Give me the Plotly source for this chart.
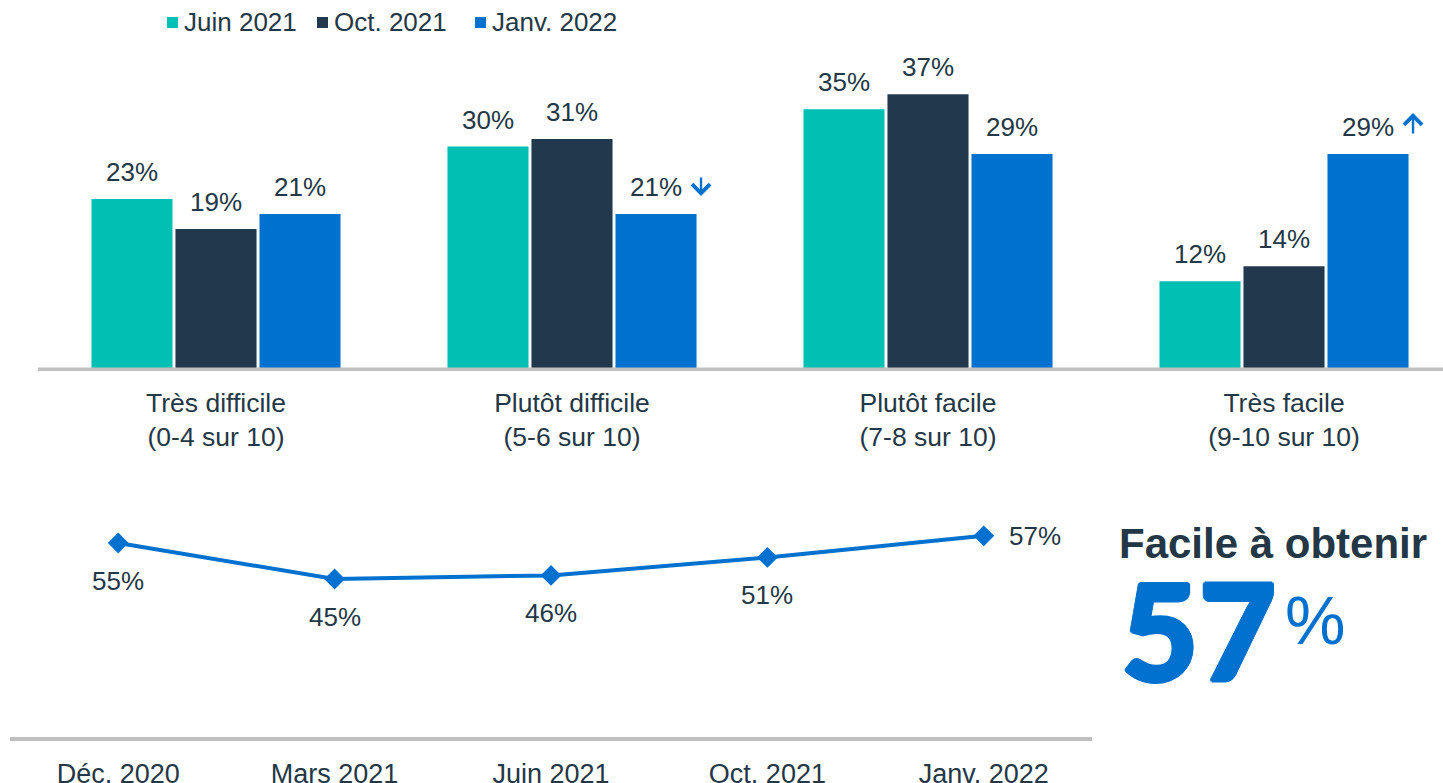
import plotly.graph_objects as go

# --- data -------------------------------------------------------------
categories = ["Très difficile<br>(0-4 sur 10)", "Plutôt difficile<br>(5-6 sur 10)",
              "Plutôt facile<br>(7-8 sur 10)", "Très facile<br>(9-10 sur 10)"]
series_names = ["Juin 2021", "Oct. 2021", "Janv. 2022"]
juin_2021 = [23, 30, 35, 12]
oct_2021 = [19, 31, 37, 14]
janv_2022 = [21, 21, 29, 29]
janv_trend = ["", "down", "", "up"]

trend_periods = ["Déc. 2020", "Mars 2021", "Juin 2021", "Oct. 2021", "Janv. 2022"]
facile_share = [55, 45, 46, 51, 57]
headline_title = "Facile à obtenir"

# --- style ------------------------------------------------------------
W, H = 1443, 783
TEAL = "#00BFB3"
NAVY = "#22384C"
BLUE = "#0071CE"
TEXT = "#243746"
GRAY = "#BFBFBF"
FONT = "Liberation Sans, Arial, sans-serif"
NARROW = "Liberation Sans Narrow, Arial Narrow, Liberation Sans, Arial, sans-serif"
colors = [TEAL, NAVY, BLUE]
bar_series = [juin_2021, oct_2021, janv_2022]

BARGAP = 0.292
GROUPGAP = 0.035
slot = (1 - BARGAP) / len(bar_series)


def px_x(x):
    return x / W


def px_y(y):
    return 1 - y / H


fig = go.Figure()

# grouped bars
for name, vals, col in zip(series_names, bar_series, colors):
    fig.add_trace(go.Bar(
        x=list(range(len(categories))), y=vals, name=name,
        marker=dict(color=col, line=dict(width=0)),
        showlegend=False, xaxis="x", yaxis="y",
    ))

annotations = []
# value labels above bars
for k, vals in enumerate(bar_series):
    off = (k - (len(bar_series) - 1) / 2) * slot
    for i, v in enumerate(vals):
        annotations.append(dict(
            x=i + off, y=v, xref="x", yref="y", text=f"{v}%", showarrow=False,
            xanchor="center", yanchor="bottom", yshift=10,
            font=dict(family=FONT, size=26, color=TEXT),
        ))

# significance arrows on the latest wave (open-head arrows beside the label)
off_last = (len(bar_series) - 1) / 2 * slot
for i, (v, t) in enumerate(zip(janv_2022, janv_trend)):
    if not t:
        continue
    down = t == "down"
    annotations.append(dict(
        x=i + off_last, y=v, xref="x", yref="y", text="",
        font=dict(size=1), borderpad=0,
        showarrow=True, arrowhead=4, arrowsize=1.45, arrowwidth=2.4,
        arrowcolor=BLUE, ax=0, ay=-19 if down else 21,
        xshift=45, yshift=18 if down else 41,
    ))

# trend line
fig.add_trace(go.Scatter(
    x=list(range(len(trend_periods))), y=facile_share, mode="lines+markers",
    line=dict(color=BLUE, width=4),
    marker=dict(symbol="diamond", size=16, color=BLUE),
    showlegend=False, xaxis="x2", yaxis="y2",
))
last = len(facile_share) - 1
for i, v in enumerate(facile_share):
    if i == last:
        annotations.append(dict(x=i, y=v, xref="x2", yref="y2", text=f"{v}%",
                                showarrow=False, xshift=51, xanchor="center",
                                yanchor="middle",
                                font=dict(family=FONT, size=26, color=TEXT)))
    else:
        annotations.append(dict(x=i, y=v, xref="x2", yref="y2", text=f"{v}%",
                                showarrow=False, yshift=-38, xanchor="center",
                                yanchor="middle",
                                font=dict(family=FONT, size=26, color=TEXT)))

# headline
annotations.append(dict(x=px_x(1273), y=px_y(543), xref="paper", yref="paper",
                        text=f"<b>{headline_title}</b>", showarrow=False,
                        xanchor="center", yanchor="middle",
                        font=dict(family=FONT, size=42, color=TEXT)))
thick = ", ".join(f"{dx}px {dy}px 0 {BLUE}" for dx, dy in
                  [(1.8, 0), (-1.8, 0), (0, 1.8), (0, -1.8),
                   (1.3, 1.3), (-1.3, 1.3), (1.3, -1.3), (-1.3, -1.3)])
annotations.append(dict(x=px_x(1278), y=px_y(629), xref="paper", yref="paper",
                        text=f"{facile_share[-1]}", showarrow=False, xanchor="right",
                        yanchor="middle",
                        font=dict(family="Lato Black, Lato", size=134, weight=900,
                                  color=BLUE, shadow=thick)))
annotations.append(dict(x=px_x(1283), y=px_y(620), xref="paper", yref="paper",
                        text="%", showarrow=False, xanchor="left", yanchor="middle",
                        font=dict(family=FONT, size=68, color=BLUE)))

# legend
legend_x = [167, 317, 475]
shapes = []
for name, col, lx in zip(series_names, colors, legend_x):
    shapes.append(dict(type="rect", xref="paper", yref="paper",
                       x0=px_x(lx), x1=px_x(lx + 11), y0=px_y(28), y1=px_y(17),
                       fillcolor=col, line=dict(width=0)))
    annotations.append(dict(x=px_x(lx + 15), y=px_y(22), xref="paper", yref="paper",
                            text=name, showarrow=False, xanchor="left", yanchor="middle",
                            font=dict(family=FONT, size=26, color=TEXT)))

# baselines
shapes.append(dict(type="line", xref="paper", yref="y", x0=px_x(38), x1=1, y0=0, y1=0,
                   line=dict(color=GRAY, width=7)))
shapes.append(dict(type="line", xref="paper", yref="y2", x0=px_x(10), x1=px_x(1092),
                   y0=0, y1=0, line=dict(color=GRAY, width=8)))

BAR_UNIT = 356
fig.update_layout(
    width=W, height=H, margin=dict(l=0, r=0, t=0, b=0, autoexpand=False),
    paper_bgcolor="white", plot_bgcolor="white",
    barmode="group", bargap=BARGAP, bargroupgap=GROUPGAP,
    xaxis=dict(domain=[px_x(38), 1], range=[-0.5, -0.5 + (W - 38) / BAR_UNIT],
               tickvals=list(range(len(categories))), ticktext=categories,
               showgrid=False, zeroline=False, showline=False, ticks="",
               tickfont=dict(family=FONT, size=26.5, color=TEXT),
               ticklabelstandoff=13, anchor="y", automargin=False, fixedrange=True),
    yaxis=dict(domain=[px_y(371), px_y(40)], range=[0, (371 - 40) / 7.48],
               visible=False, fixedrange=True),
    xaxis2=dict(domain=[px_x(10), px_x(1092)], range=[-0.5, len(trend_periods) - 0.5],
                tickvals=list(range(len(trend_periods))), ticktext=trend_periods,
                showgrid=False, zeroline=False, showline=False, ticks="",
                tickfont=dict(family=NARROW, size=27, color=TEXT),
                ticklabelstandoff=14, anchor="y2", automargin=False, fixedrange=True),
    yaxis2=dict(domain=[px_y(741), px_y(480)], range=[0, (741 - 480) / 3.6],
                visible=False, fixedrange=True),
    annotations=annotations, shapes=shapes,
)

fig.write_html("out.html")
